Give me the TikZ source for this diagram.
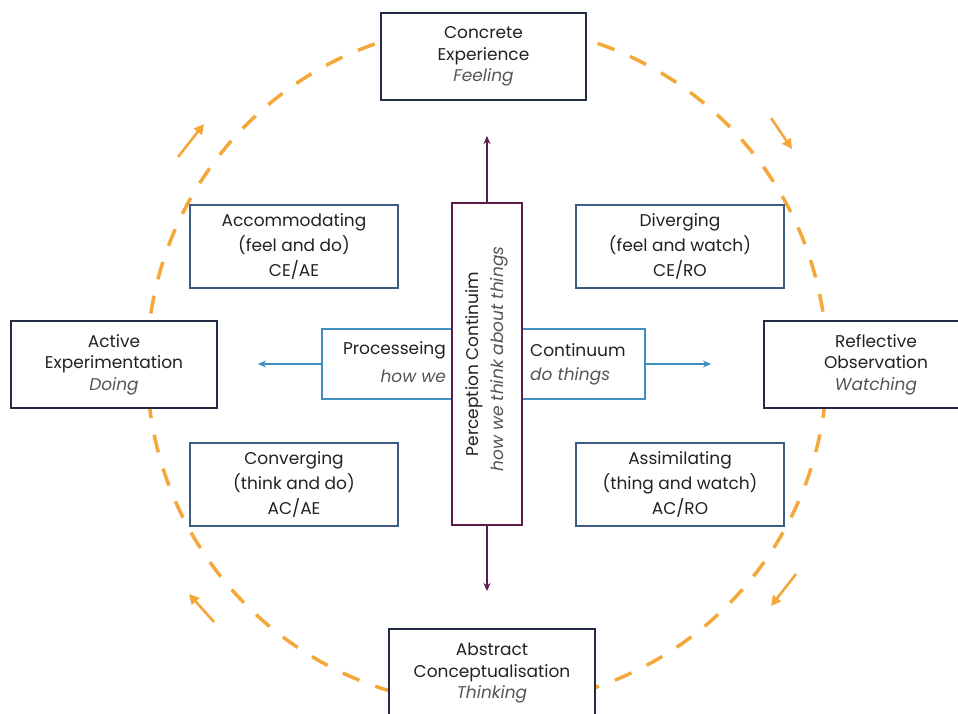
\documentclass[tikz,border=0pt]{standalone}
\usepackage{fontspec}
\setmainfont{Poppins}
\usetikzlibrary{arrows.meta}
\definecolor{navy}{HTML}{232B45}
\definecolor{steel}{HTML}{3E5C82}
\definecolor{skyline}{HTML}{3D8FBF}
\definecolor{plum}{HTML}{5E1A48}
\definecolor{amber}{HTML}{F5A83A}
\definecolor{ink}{HTML}{222222}
\definecolor{soft}{HTML}{555555}
\tikzset{
  stagebox/.style={draw=navy, line width=2.2pt, fill=white, text=ink, align=center,
    font=\fontsize{17}{21.5}\selectfont, inner sep=0pt},
  stylebox/.style={draw=steel, line width=1.8pt, fill=white, text=ink, align=center,
    minimum width=208pt, minimum height=83pt, font=\fontsize{17}{25}\selectfont, inner sep=0pt},
  flowring/.style={draw=amber, line width=3.5pt, dash pattern=on 18pt off 17pt},
  cue/.style={draw=amber, line width=2.6pt, -{Triangle[length=10pt,width=10pt]}},
  lbl/.style={text=ink, font=\fontsize{17}{20}\selectfont, inner sep=0pt},
  hint/.style={text=soft, font=\fontsize{17}{20}\selectfont\itshape, inner sep=0pt},
}
\begin{document}
\begin{tikzpicture}[x=1pt,y=-1pt]
\useasboundingbox (0,0) rectangle (958,713);
\fill[white] (0,0) rectangle (958,713);

% experiential learning cycle
\draw[flowring] (487,365) circle[radius=340];

% direction cues around the cycle
\coordinate (c1a) at (178,157); \coordinate (c1b) at (204,124);
\coordinate (c2a) at (771,118); \coordinate (c2b) at (792,149);
\coordinate (c3a) at (796,574); \coordinate (c3b) at (771,606);
\coordinate (c4a) at (214,622); \coordinate (c4b) at (189,594);
\draw[cue] (c1a) -- (c1b);
\draw[cue] (c2a) -- (c2b);
\draw[cue] (c3a) -- (c3b);
\draw[cue] (c4a) -- (c4b);

% the four stages
\node[stagebox, minimum width=205pt, minimum height=87pt] (ce) at (483.5,56.5)
  {Concrete\\Experience\\{\color{soft}\itshape Feeling}};
\node[stagebox, minimum width=224pt, minimum height=87pt] (ro) at (876,364.5)
  {Reflective\\Observation\\{\color{soft}\itshape Watching}};
\node[stagebox, minimum width=206pt, minimum height=87pt] (ae) at (114,364.5)
  {Active\\Experimentation\\{\color{soft}\itshape Doing}};
\node[stagebox, minimum width=206pt, minimum height=88pt] (ac) at (492,673)
  {Abstract\\Conceptualisation\\{\color{soft}\itshape Thinking}};

% the four learning styles
\node[stylebox] (acm) at (294,246.5) {Accommodating\\(feel and do)\\CE/AE};
\node[stylebox] (div) at (680,246.5) {Diverging\\(feel and watch)\\CE/RO};
\node[stylebox] (cnv) at (294,484.5) {Converging\\(think and do)\\AC/AE};
\node[stylebox] (asm) at (680,484.5) {Assimilating\\(thing and watch)\\AC/RO};

% processing continuum (horizontal)
\coordinate (pl) at (258,364);
\coordinate (pr) at (711,364);
\node[draw=skyline, line width=1.8pt, fill=white, minimum width=323pt, minimum height=70pt, inner sep=0pt] (proc) at (483.5,364) {};
\draw[skyline, line width=1.8pt, -{Stealth[length=8pt,width=7pt]}] (proc.west) -- (pl);
\draw[skyline, line width=1.8pt, -{Stealth[length=8pt,width=7pt]}] (proc.east) -- (pr);

% perception continuum (vertical)
\coordinate (pt) at (487,136);
\coordinate (pb) at (487,591);
\node[draw=plum, line width=1.8pt, fill=white, minimum width=70pt, minimum height=322pt, inner sep=0pt] (perc) at (487,364) {};
\draw[plum, line width=1.8pt, -{Stealth[length=8pt,width=7pt]}] (perc.north) -- (pt);
\draw[plum, line width=1.8pt, -{Stealth[length=8pt,width=7pt]}] (perc.south) -- (pb);
\node[lbl, rotate=90] (pname) at (474,364) {Perception Continuim};
\node[hint, rotate=90] (phint) at (499,359) {how we think about things};

% processing labels
\node[lbl, anchor=east] (procname) at (446,350) {Processeing};
\node[hint, anchor=east] (prochint) at (446,376) {how we};
\node[lbl, anchor=west] (contname) at (530,350) {Continuum};
\node[hint, anchor=west] (conthint) at (530,376) {do things};
\end{tikzpicture}
\end{document}
